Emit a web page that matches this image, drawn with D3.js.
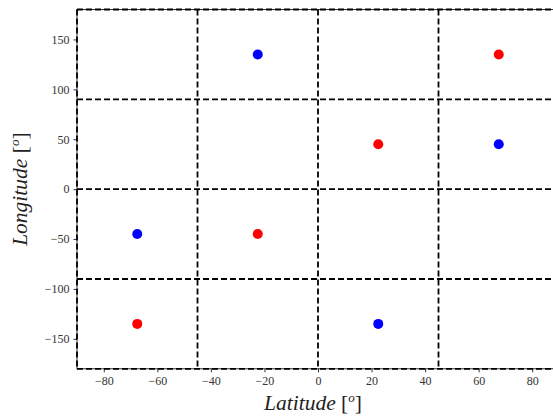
<!DOCTYPE html>
<html><head><meta charset="utf-8">
<script src="https://cdn.jsdelivr.net/npm/d3@7"></script>
<style>body{margin:0;background:#fff;overflow:hidden}</style>
</head><body>
<script>
const redPoints = [[67.5,135],[22.5,45],[-22.5,-45],[-67.5,-135]];
const bluePoints = [[-22.5,135],[67.5,45],[-67.5,-45],[22.5,-135]];
const xTicks = [-80,-60,-40,-20,0,20,40,60,80];
const yTicks = [-150,-100,-50,0,50,100,150];
const xGrid = [-90,-45,0,45,90];
const yGrid = [-180,-90,0,90,180];

const W=553,H=416;
const svg=d3.select("body").append("svg").attr("width",W).attr("height",H);
const x=d3.scaleLinear().domain([-90,90]).range([77,559]);
const y=d3.scaleLinear().domain([-180,180]).range([368.8,9.5]);
const fmt=d=>d<0?"\u2212"+Math.abs(d):String(d);
const font="'Liberation Serif', 'DejaVu Serif', serif";

// spines
svg.append("rect").attr("x",x(-90)).attr("y",y(180)).attr("width",x(90)-x(-90)).attr("height",y(-180)-y(180))
  .attr("fill","none").attr("stroke","#000").attr("stroke-width",0.8);

// dashed grid
svg.selectAll("line.vg").data(xGrid).enter().append("line")
  .attr("x1",d=>x(d)).attr("x2",d=>x(d)).attr("y1",y(180)).attr("y2",y(-180))
  .attr("stroke","#000").attr("stroke-width",1.8).attr("stroke-dasharray","6,3");
svg.selectAll("line.hg").data(yGrid).enter().append("line")
  .attr("y1",d=>y(d)).attr("y2",d=>y(d)).attr("x1",x(-90)).attr("x2",x(90))
  .attr("stroke","#000").attr("stroke-width",1.8).attr("stroke-dasharray","6,3");

// axes
const xa=svg.append("g").attr("transform",`translate(0,${y(-180)})`)
  .call(d3.axisBottom(x).tickValues(xTicks).tickFormat(fmt).tickSize(3.5).tickPadding(4));
const ya=svg.append("g").attr("transform",`translate(${x(-90)},0)`)
  .call(d3.axisLeft(y).tickValues(yTicks).tickFormat(fmt).tickSize(3.5).tickPadding(4));
[xa,ya].forEach(g=>{
  g.select(".domain").remove();
  g.selectAll("text").attr("font-family",font).attr("font-size",12).attr("fill","#333");
  g.selectAll("line").attr("stroke","#000").attr("stroke-width",0.8);
});

// points
svg.selectAll("circle.r").data(redPoints).enter().append("circle")
  .attr("cx",d=>x(d[0])).attr("cy",d=>y(d[1])).attr("r",5).attr("fill","#ff0000");
svg.selectAll("circle.b").data(bluePoints).enter().append("circle")
  .attr("cx",d=>x(d[0])).attr("cy",d=>y(d[1])).attr("r",5).attr("fill","#0000ff");

// labels
const xl=svg.append("text").attr("x",313).attr("y",410).attr("text-anchor","middle")
  .attr("font-family",font).attr("font-size",21.5).attr("fill","#222");
xl.append("tspan").attr("font-style","italic").text("Latitude ");
xl.append("tspan").text("[");
xl.append("tspan").attr("font-style","italic").attr("font-size",13).attr("dy",-8).text("o");
xl.append("tspan").attr("dy",8).text("]");

const yl=svg.append("text").attr("transform",`translate(27,${y(0)}) rotate(-90)`).attr("text-anchor","middle")
  .attr("font-family",font).attr("font-size",21.5).attr("fill","#222");
yl.append("tspan").attr("font-style","italic").text("Longitude ");
yl.append("tspan").text("[");
yl.append("tspan").attr("font-style","italic").attr("font-size",13).attr("dy",-8).text("o");
yl.append("tspan").attr("dy",8).text("]");
</script>
</body></html>
